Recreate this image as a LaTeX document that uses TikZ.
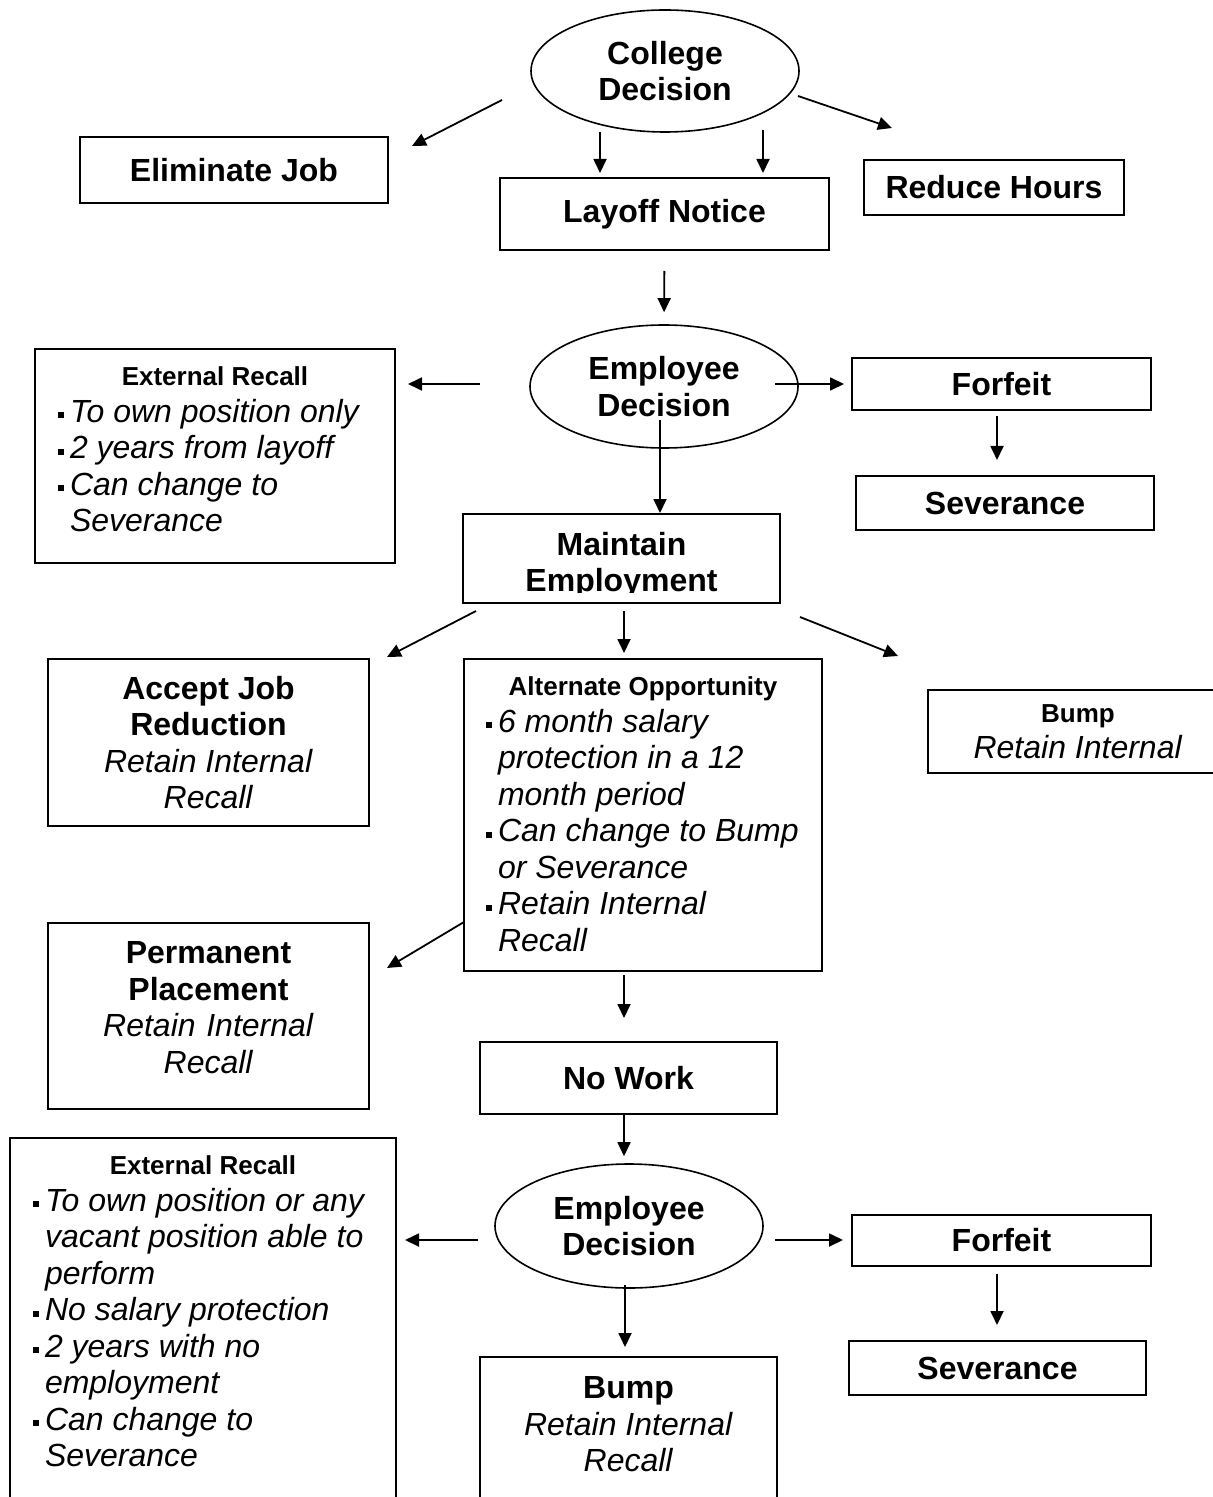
\documentclass[tikz,border=0pt]{standalone}
\usepackage{fontspec}
\setmainfont{Liberation Sans}
\usetikzlibrary{arrows.meta,shapes.geometric}

\newcommand{\bul}{\makebox[6pt][l]{\rule[2pt]{3pt}{3pt}}}
\newcommand{\ind}{\hspace*{6pt}}
\newcommand{\hfont}{\fontsize{13}{18.25}\selectfont\bfseries}
\newcommand{\normsp}{\spaceskip=0pt\xspaceskip=0pt\relax}
\newcommand{\hdr}[1]{{\centering\hfont #1\par}}

\begin{document}
\begin{tikzpicture}[x=0.5pt, y=-0.5pt,
    font=\fontsize{16}{18.25}\selectfont,
    box/.style={draw, line width=1pt, rectangle, inner sep=0pt, align=center},
    decision/.style={draw, ellipse, line width=0.8pt, inner sep=0pt, align=center,
      font=\fontsize{16}{18.25}\selectfont\bfseries},
    listbox/.style={draw, line width=1pt, rectangle, anchor=north, inner ysep=9pt, align=left},
    arr/.style={-{Triangle[length=7pt,width=6.5pt]}, line width=0.9pt}]
    \useasboundingbox (0,0) rectangle (1213,1497);

    % college decision
    \node[decision, minimum width=134pt, minimum height=61pt] (college) at (665,71) {College\\Decision};
    \node[box, minimum width=154pt, minimum height=33pt] (elim) at (234,170) {\textbf{Eliminate Job}};
    \node[box, minimum width=164.5pt, minimum height=36pt] (layoff) at (664.5,214) {\textbf{Layoff Notice}};
    \node[box, minimum width=130pt, minimum height=27.5pt] (reduce) at (994,187.5) {\textbf{Reduce Hours}};

    % first employee decision
    \node[decision, minimum width=134pt, minimum height=61.5pt] (empdec) at (664,386.5) {Employee\\Decision};
    \node[listbox, text width=157pt, inner xsep=11.5pt, text depth=79.7pt] (extrec) at (215,348)
      {\normsp\hdr{External Recall}\bul\textit{To own position only}\\
       \bul\textit{2 years from layoff}\\
       \bul\textit{Can change to}\\
       \ind\textit{Severance}};
    \node[box, minimum width=149.5pt, minimum height=26pt] (forfeit) at (1001.5,384) {\textbf{Forfeit}};
    \node[box, minimum width=149pt, minimum height=27pt] (sev) at (1005,503) {\textbf{Severance}};

    % maintain employment (text cut by the box)
    \node[box, minimum width=158.5pt, minimum height=44.5pt] (maintain) at (621.5,558.5) {};
    \begin{scope}
      \clip (maintain.north west) rectangle (780,592);
      \node[align=center] (maintainlbl) at (621.5,565) {\textbf{Maintain}\\\textbf{Employment}};
    \end{scope}

    \node[box, minimum width=160.5pt, minimum height=83.5pt] (accept) at (208.5,742.5)
      {\textbf{Accept Job}\\\textbf{Reduction}\\\textit{Retain Internal}\\\textit{Recall}};
    \node[listbox, text width=157pt, inner xsep=11pt, text depth=128.7pt] (altopp) at (643,658)
      {\normsp\hdr{Alternate Opportunity}\bul\textit{6 month salary}\\
       \ind\textit{protection in a 12}\\
       \ind\textit{month period}\\
       \bul\textit{Can change to Bump}\\
       \ind\textit{or Severance}\\
       \bul\textit{Retain Internal}\\
       \ind\textit{Recall}};
    \node[box, minimum width=150pt, minimum height=41.5pt] (bump) at (1078,731.5) {{\hfont Bump}\\\textit{Retain Internal}};
    \node[box, anchor=north, text width=160.5pt, inner ysep=9.25pt, text depth=63.5pt] (perm) at (208.5,922)
      {\textbf{Permanent}\\\textbf{Placement}\\\textit{Retain Internal}\\\textit{Recall}};

    % no work
    \node[box, minimum width=148.5pt, minimum height=36pt] (nowork) at (628.5,1078) {\textbf{No Work}};
    \node[decision, minimum width=134pt, minimum height=62pt] (empdec2) at (629,1226) {Employee\\Decision};
    \node[listbox, text width=170pt, inner xsep=11.5pt, text depth=175pt] (extrec2) at (203,1137)
      {\normsp\hdr{External Recall}\bul\textit{To own position or any}\\
       \ind\textit{vacant position able to}\\
       \ind\textit{perform}\\
       \bul\textit{No salary protection}\\
       \bul\textit{2 years with no}\\
       \ind\textit{employment}\\
       \bul\textit{Can change to}\\
       \ind\textit{Severance}};
    \node[box, minimum width=149.5pt, minimum height=25.5pt] (forfeit2) at (1001.5,1240.5) {\textbf{Forfeit}};
    \node[box, minimum width=148.5pt, minimum height=27pt] (sev2) at (997.5,1368) {\textbf{Severance}};
    \node[box, anchor=north, minimum width=148.5pt, inner ysep=9.75pt, text depth=120pt] (bump2) at (628.5,1356)
      {\textbf{Bump}\\\textit{Retain Internal}\\\textit{Recall}};

    % arrow ends
    \coordinate (cdw) at (502,100);   \coordinate (cdwEnd) at (412,146);
    \coordinate (cds1) at (600,132);  \coordinate (cds1End) at (600,173);
    \coordinate (cds2) at (763,130);  \coordinate (cds2End) at (763,173);
    \coordinate (cde) at (798,96);    \coordinate (cdeEnd) at (892,128);
    \coordinate (edw) at (480,384);   \coordinate (edwEnd) at (408,384);
    \coordinate (ede) at (775,384);   \coordinate (edeEnd) at (844,384);
    \coordinate (eds) at (660,420);
    \coordinate (ffs) at (997,416);   \coordinate (ffsEnd) at (997,460);
    \coordinate (mew) at (476,611);   \coordinate (mewEnd) at (387,657);
    \coordinate (mes) at (624,611);   \coordinate (mesEnd) at (624,653);
    \coordinate (mee) at (800,617);   \coordinate (meeEnd) at (898,656);
    \coordinate (aow) at (464,922);   \coordinate (aowEnd) at (387,968);
    \coordinate (aos) at (624,975);   \coordinate (aosEnd) at (624,1018);
    \coordinate (nws) at (624,1114);
    \coordinate (e2w) at (478,1240);  \coordinate (e2wEnd) at (405,1240);
    \coordinate (e2e) at (775,1240);  \coordinate (e2eEnd) at (843,1240);
    \coordinate (e2s) at (625,1285);
    \coordinate (f2s) at (997,1274);  \coordinate (f2sEnd) at (997,1325);

    \draw[arr] (cdw) -- (cdwEnd);
    \draw[arr] (cds1) -- (cds1End);
    \draw[arr] (cds2) -- (cds2End);
    \draw[arr] (cde) -- (cdeEnd);
    \draw[arr, shorten <=10pt, shorten >=6pt] (layoff.south) -- (empdec.north);
    \draw[arr] (edw) -- (edwEnd);
    \draw[arr] (ede) -- (edeEnd);
    \draw[arr] (ffs) -- (ffsEnd);
    \draw[arr] (eds) -- (eds |- maintain.north);
    \draw[arr] (mew) -- (mewEnd);
    \draw[arr] (mes) -- (mesEnd);
    \draw[arr] (mee) -- (meeEnd);
    \draw[arr] (aow) -- (aowEnd);
    \draw[arr] (aos) -- (aosEnd);
    \draw[arr, shorten >=3.5pt] (nws) -- (nws |- empdec2.north);
    \draw[arr] (e2w) -- (e2wEnd);
    \draw[arr] (e2e) -- (e2eEnd);
    \draw[arr, shorten >=4.5pt] (e2s) -- (e2s |- bump2.north);
    \draw[arr] (f2s) -- (f2sEnd);
\end{tikzpicture}
\end{document}
